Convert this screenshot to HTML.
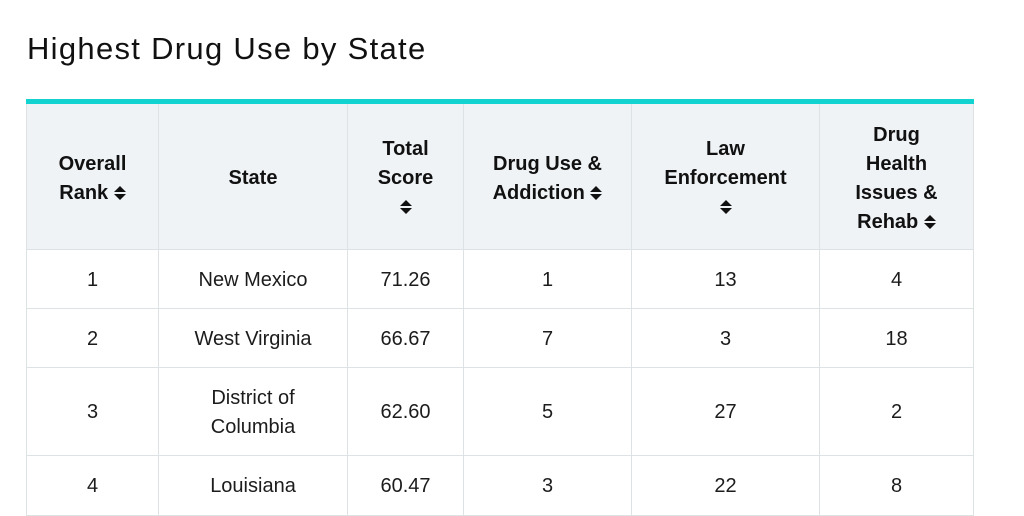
<!DOCTYPE html>
<html><head><meta charset="utf-8"><style>
body{margin:0;width:1024px;height:515px;background:#fff;overflow:hidden;font-family:"Liberation Sans",sans-serif;color:#1c1c1c;position:relative}
.t{position:absolute;left:27px;top:31px;font-size:31px;letter-spacing:1.3px;color:#111}
.bar{position:absolute;left:26px;top:99px;width:948px;height:5px;background:#12d3cf}
.c{position:absolute;display:flex;align-items:center;justify-content:center;text-align:center;box-sizing:border-box;border-left:1px solid #dde2e5;border-bottom:1px solid #dde2e5;font-size:20px;line-height:29px;padding-top:2px}
.h{background:#eff3f6;font-weight:bold;color:#111;padding-top:4px}
.r{border-right:1px solid #dde2e5}
.a{display:inline-block;width:12px;height:14px;vertical-align:-1px}
</style></head><body>
<div class="t">Highest Drug Use by State</div>
<div class="bar"></div>
<div id="tbl"></div>
<script>
const A="<svg class='a' viewBox='0 0 12 14'><path d='M6 0L12 6H0Z M6 14L12 8H0Z' fill='#111'/></svg>";
const cols=[26,158,347,463,631,819,974];
const rows=[104,250,309,368,456,516];
const headers=["Overall<br>Rank "+A,"State","Total<br>Score<br>"+A,"Drug Use &amp;<br>Addiction "+A,"Law<br>Enforcement<br>"+A,"Drug<br>Health<br>Issues &amp;<br>Rehab "+A];
const ranks=["1","2","3","4"];
const states=["New Mexico","West Virginia","District of<br>Columbia","Louisiana"];
const scores=["71.26","66.67","62.60","60.47"];
const drugUse=["1","7","5","3"];
const lawEnf=["13","3","27","22"];
const health=["4","18","2","8"];
const hnames=["overall-rank-header","state-header","total-score-header","drug-use-header","law-enforcement-header","health-rehab-header"];
const cnames=["rank-cell","state-cell","score-cell","drug-use-cell","law-cell","health-cell"];
const tbl=document.getElementById('tbl');
function cell(html,ci,ri,cls){
  const d=document.createElement('div');
  d.className='c '+cls+(ci===5?' r':'');
  d.style.left=cols[ci]+'px';d.style.width=(cols[ci+1]-cols[ci])+'px';
  d.style.top=rows[ri]+'px';d.style.height=(rows[ri+1]-rows[ri])+'px';
  d.innerHTML='<div>'+html+'</div>';tbl.appendChild(d);return d;
}
headers.forEach((h,i)=>{const d=cell(h,i,0,'h');

});
const data=[ranks,states,scores,drugUse,lawEnf,health];
for(let r=0;r<4;r++)for(let c=0;c<6;c++){const d=cell(data[c][r],c,r+1,'');

}
</script>
</body></html>
